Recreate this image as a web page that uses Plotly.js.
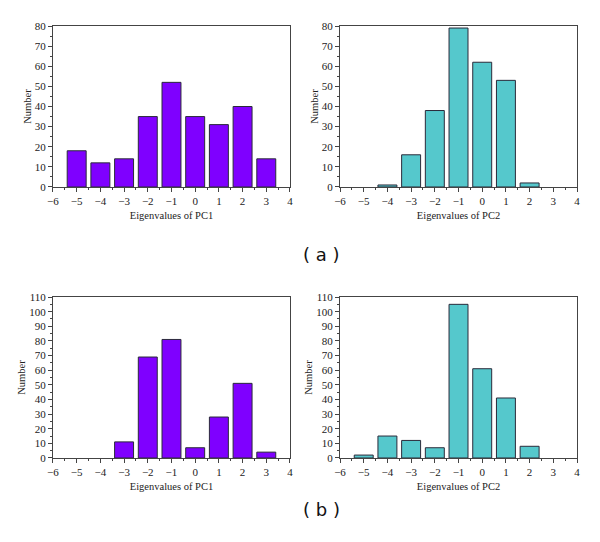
<!DOCTYPE html>
<html>
<head>
<meta charset="utf-8">
<script src="https://cdn.plot.ly/plotly-3.0.1.min.js"></script>
<style>html,body{margin:0;padding:0;background:#fff;}#chart{width:600px;height:542px;}</style>
</head>
<body>
<div id="chart"></div>
<script>
// Data
const bins = [-5, -4, -3, -2, -1, 0, 1, 2, 3];
const aPC1 = [18, 12, 14, 35, 52, 35, 31, 40, 14];
const aPC2 = [0, 1, 16, 38, 79, 62, 53, 2, 0];
const bPC1 = [0, 0, 11, 69, 81, 7, 28, 51, 4];
const bPC2 = [2, 15, 12, 7, 105, 61, 41, 8, 0];
const xTitles = ["Eigenvalues of PC1", "Eigenvalues of PC2"];
const yTitle = "Number";
const panelLabels = ["( a )", "( b )"];

const purple = "#7f00ff";
const cyan = "#55c8cc";
const edge = "#2a2a3a";

function bar(y, color, xa, ya) {
  return {type: "bar", x: bins, y: y, width: 0.8, xaxis: xa, yaxis: ya,
    marker: {color: color, line: {color: edge, width: y.map(v => v > 0 ? 1 : 0)}},
    hoverinfo: "none"};
}

const data = [
  bar(aPC1, purple, "x", "y"),
  bar(aPC2, cyan, "x2", "y2"),
  bar(bPC1, purple, "x3", "y3"),
  bar(bPC2, cyan, "x4", "y4")
];

const font = {family: "Liberation Serif, Times New Roman, serif", size: 11, color: "#222"};
const tfont = {family: "Liberation Serif, Times New Roman, serif", size: 10.5, color: "#222"};

function xaxis(dom, anchor, title) {
  return {domain: dom, anchor: anchor, range: [-6, 4], dtick: 1, tick0: 0,
    ticks: "outside", ticklen: 4, tickcolor: "#444", showline: true, linecolor: "#444",
    linewidth: 1, mirror: true, showgrid: false, zeroline: false,
    minor: {ticks: "outside", ticklen: 2, dtick: 0.5, tickcolor: "#444", showgrid: false},
    tickfont: font, title: {text: title, font: tfont, standoff: 5}};
}
function yaxis(dom, anchor, max) {
  return {domain: dom, anchor: anchor, range: [0, max], dtick: 10,
    ticks: "outside", ticklen: 4, tickcolor: "#444", showline: true, linecolor: "#444",
    linewidth: 1, mirror: true, showgrid: false, zeroline: false,
    minor: {ticks: "outside", ticklen: 2, dtick: 5, tickcolor: "#444", showgrid: false},
    tickfont: font, title: {text: yTitle, font: tfont, standoff: 1}};
}

const xL = [0.0883, 0.4833], xR = [0.5667, 0.9617];
const yA = [0.655, 0.952], yB = [0.155, 0.452];

const layout = {
  width: 600, height: 542, margin: {l: 0, r: 0, t: 0, b: 0},
  paper_bgcolor: "#fff", plot_bgcolor: "#fff", showlegend: false, bargap: 0.2,
  xaxis: xaxis(xL, "y", xTitles[0]), yaxis: yaxis(yA, "x", 80),
  xaxis2: xaxis(xR, "y2", xTitles[1]), yaxis2: yaxis(yA, "x2", 80),
  xaxis3: xaxis(xL, "y3", xTitles[0]), yaxis3: yaxis(yB, "x3", 110),
  xaxis4: xaxis(xR, "y4", xTitles[1]), yaxis4: yaxis(yB, "x4", 110),
  annotations: [
    {text: panelLabels[0], xref: "paper", yref: "paper", x: 0.535, y: 1 - 255/542,
     showarrow: false, font: {family: "DejaVu Sans, sans-serif", size: 18, color: "#111"}},
    {text: panelLabels[1], xref: "paper", yref: "paper", x: 0.535, y: 1 - 522/542,
     showarrow: false, font: {family: "DejaVu Sans, sans-serif", size: 18, color: "#111"}}
  ]
};

Plotly.newPlot("chart", data, layout, {staticPlot: true, displayModeBar: false});
</script>
</body>
</html>
